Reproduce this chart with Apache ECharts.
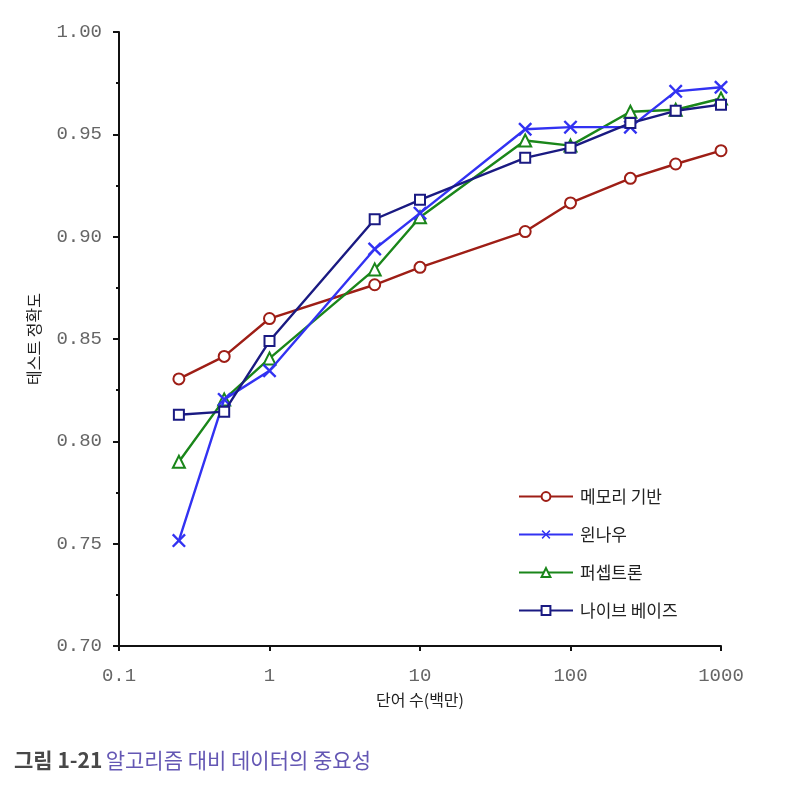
<!DOCTYPE html>
<html>
<head>
<meta charset="utf-8">
<script src="https://cdn.jsdelivr.net/npm/echarts@6/dist/echarts.min.js"></script>
<style>
html,body{margin:0;padding:0;background:#fff;}
#chart{width:800px;height:797px;}
</style>
</head>
<body>
<div id="chart"></div>
<script>
var xValues = [0.25, 0.5, 1, 5, 10, 50, 100, 250, 500, 1000];
var seriesNames = ['메모리 기반', '윈나우', '퍼셉트론', '나이브 베이즈'];
var memoryBased = [0.8305, 0.8415, 0.8600, 0.8765, 0.8850, 0.9025, 0.9165, 0.9285, 0.9355, 0.9420];
var winnow      = [0.7515, 0.8205, 0.8345, 0.8940, 0.9115, 0.9525, 0.9535, 0.9535, 0.9710, 0.9730];
var perceptron  = [0.7900, 0.8205, 0.8405, 0.8840, 0.9095, 0.9470, 0.9445, 0.9610, 0.9620, 0.9675];
var naiveBayes  = [0.8130, 0.8145, 0.8490, 0.9085, 0.9180, 0.9385, 0.9435, 0.9555, 0.9615, 0.9645];
var xTickLabels = {'0.1': '0.1', '1': '1', '10': '10', '100': '100', '1000': '1000'};
var yTickLabels = ['0.70', '0.75', '0.80', '0.85', '0.90', '0.95', '1.00'];

function pairs(vals) { return xValues.map(function (x, i) { return [x, vals[i]]; }); }

var xSymbol = 'path://M0,1.2 L1.2,0 L5,3.8 L8.8,0 L10,1.2 L6.2,5 L10,8.8 L8.8,10 L5,6.2 L1.2,10 L0,8.8 L3.8,5 Z';
var colors = ['#9e1e16', '#3232f2', '#1a861a', '#1a1a82'];
var symbols = ['emptyCircle', xSymbol, 'emptyTriangle', 'emptyRect'];
var sizes = [11, 14, 12, 10];
var datas = [memoryBased, winnow, perceptron, naiveBayes];

var chart = echarts.init(document.getElementById('chart'));
var tickFont = {fontFamily: 'Liberation Mono', fontSize: 19, color: '#666'};

chart.setOption({
  animation: false,
  backgroundColor: '#fff',
  grid: {left: 119, right: 79, top: 32, bottom: 151, containLabel: false},
  legend: {
    orient: 'vertical', left: 513, top: 483, itemGap: 21,
    itemWidth: 54, itemHeight: 11,
    textStyle: {fontFamily: 'Noto Sans CJK KR', fontSize: 17, color: '#222', padding: [0, 0, 0, 2]},
    data: seriesNames
  },
  xAxis: {
    type: 'log', logBase: 10, min: 0.1, max: 1000,
    name: '단어 수(백만)', nameLocation: 'middle', nameGap: 46,
    nameTextStyle: {fontFamily: 'Noto Sans CJK KR', fontSize: 16, color: '#222'},
    axisLine: {lineStyle: {color: '#111', width: 2}},
    axisTick: {show: true, inside: false, length: 5, lineStyle: {color: '#111', width: 2}},
    splitLine: {show: false},
    minorTick: {show: false},
    axisLabel: Object.assign({margin: 20, formatter: function (v) {
      var k = String(+v.toPrecision(6)); return xTickLabels[k] !== undefined ? xTickLabels[k] : k; }}, tickFont)
  },
  yAxis: {
    type: 'value', min: 0.70, max: 1.00, interval: 0.05,
    name: '테스트 정확도', nameLocation: 'middle', nameGap: 77, nameRotate: 90,
    nameTextStyle: {fontFamily: 'Noto Sans CJK KR', fontSize: 16, color: '#222'},
    axisLine: {show: true, lineStyle: {color: '#111', width: 2}},
    axisTick: {show: true, length: 6, lineStyle: {color: '#111', width: 2}},
    minorTick: {show: true, splitNumber: 2, length: 3, lineStyle: {color: '#111', width: 2}},
    splitLine: {show: false},
    axisLabel: Object.assign({margin: 17, formatter: function (v) {
      var i = Math.round((v - 0.70) / 0.05); return yTickLabels[i]; }}, tickFont)
  },
  graphic: [{
    type: 'text', left: 14, top: 750,
    style: {
      text: '{a|그림 1-21} {b|알고리즘 대비 데이터의 중요성}',
      rich: {
        a: {fontFamily: 'Noto Sans CJK KR', fontSize: 21, fontWeight: 'bold', fill: '#484848'},
        b: {fontFamily: 'Noto Sans CJK KR', fontSize: 21, fill: '#6457b4'}
      }
    }
  }],
  series: seriesNames.map(function (n, i) {
    return {
      name: n, type: 'line', data: pairs(datas[i]),
      symbol: symbols[i], symbolSize: sizes[i],
      lineStyle: {color: colors[i], width: 2.4},
      itemStyle: i === 1 ? {color: colors[i], borderWidth: 0} : {color: colors[i], borderColor: colors[i], borderWidth: 2.2},
      z: [2, 4, 3, 5][i]
    };
  })
});
</script>
</body>
</html>
